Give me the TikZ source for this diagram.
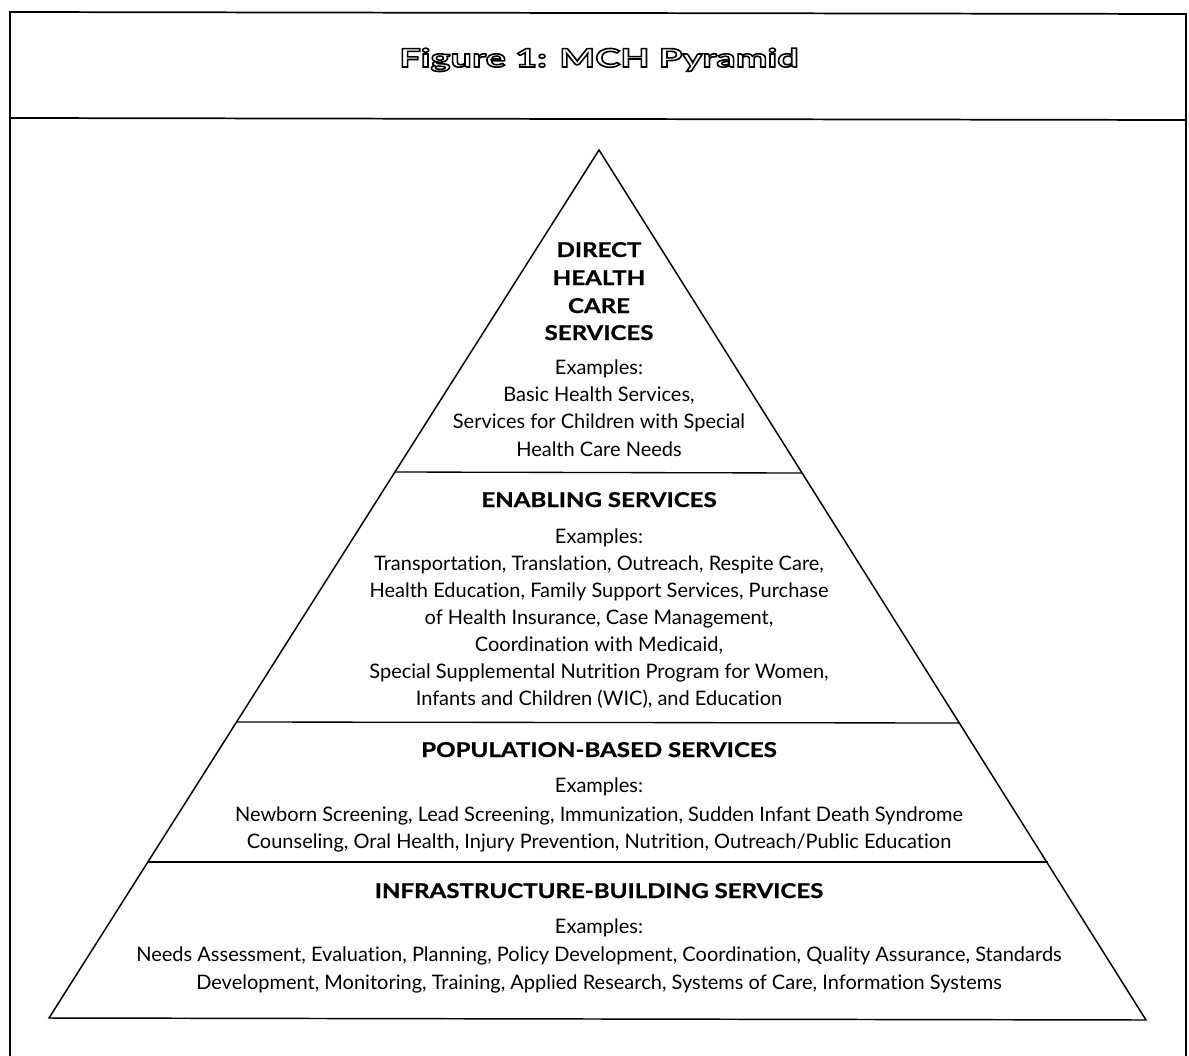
\documentclass[tikz,border=0pt]{standalone}
\usepackage{fontspec}
\setmainfont{Lato}[Ligatures=NoCommon]
\newfontfamily\headfont{Lato}[Ligatures=NoCommon, FakeStretch=1.18, FakeBold=0.9]
\newfontfamily\titlefont{Lato}[Ligatures=NoCommon, FakeStretch=1.5]
\newcommand{\outlined}[1]{\special{pdf:literal direct 1 Tr 1.2 w}#1\special{pdf:literal direct 0 Tr}}
\begin{document}
\begin{tikzpicture}[x=0.75pt,y=-0.75pt,
  frame/.style={line width=1.3pt},
  edge/.style={line width=1.1pt, line join=miter},
  divider/.style={line width=1pt},
  body/.style={anchor=base, inner sep=0pt, font=\fontsize{15}{18}\selectfont},
  head/.style={anchor=base, inner sep=0pt, font=\fontsize{15.3}{18}\headfont\bfseries}]
\useasboundingbox (0,0) rectangle (1189,1056);

% outer frame, open at the bottom
\draw[frame] (10,1070) -- (10,12) -- (1186,14) -- (1186,1070);
\draw[frame] (10,118) -- (1186,120);

% title
\node[anchor=base, inner sep=0pt] (title) at (599,67)
  {\fontsize{19}{22}\titlefont\bfseries\outlined{Figure 1: MCH Pyramid}};

% pyramid outline
\coordinate (apex) at (599,150);
\coordinate (bl) at (49,1018);
\coordinate (br) at (1146,1020);
\draw[edge] (apex) -- (bl) -- (br) -- cycle;

% tier dividers
\coordinate (d1l) at (395,472);  \coordinate (d1r) at (802,473);
\coordinate (d2l) at (237,722);  \coordinate (d2r) at (960,723);
\coordinate (d3l) at (148,862);  \coordinate (d3r) at (1048,862);
\draw[divider] (d1l) -- (d1r);
\draw[divider] (d2l) -- (d2r);
\draw[divider] (d3l) -- (d3r);

% direct health care services
\node[head] (dh1) at (599,257) {DIRECT};
\node[head] (dh2) at (599,285) {HEALTH};
\node[head] (dh3) at (599,313) {CARE};
\node[head] (dh4) at (599,340) {SERVICES};
\node[body] (dx0) at (599,374) {Examples:};
\node[body] (dx1) at (599,401) {Basic Health Services,};
\node[body] (dx2) at (599,428) {Services for Children with Special};
\node[body] (dx3) at (599,456) {Health Care Needs};

% enabling services
\node[head] (eh) at (599,507) {ENABLING SERVICES};
\node[body] (ex0) at (599,543) {Examples:};
\node[body] (ex1) at (599,570) {Transportation, Translation, Outreach, Respite Care,};
\node[body] (ex2) at (599,597) {Health Education, Family Support Services, Purchase};
\node[body] (ex3) at (599,624) {of Health Insurance, Case Management,};
\node[body] (ex4) at (599,651) {Coordination with Medicaid,};
\node[body] (ex5) at (599,678) {Special Supplemental Nutrition Program for Women,};
\node[body] (ex6) at (599,705) {Infants and Children (WIC), and Education};

% population-based services
\node[head] (ph) at (599,757) {POPULATION-BASED SERVICES};
\node[body] (px0) at (599,792) {Examples:};
\node[body] (px1) at (599,821) {Newborn Screening, Lead Screening, Immunization, Sudden Infant Death Syndrome};
\node[body] (px2) at (599,848) {Counseling, Oral Health, Injury Prevention, Nutrition, Outreach/Public Education};

% infrastructure-building services
\node[head] (ih) at (599,898) {INFRASTRUCTURE-BUILDING SERVICES};
\node[body] (ix0) at (599,933) {Examples:};
\node[body] (ix1) at (599,961) {Needs Assessment, Evaluation, Planning, Policy Development, Coordination, Quality Assurance, Standards};
\node[body] (ix2) at (599,989) {Development, Monitoring, Training, Applied Research, Systems of Care, Information Systems};
\end{tikzpicture}
\end{document}
